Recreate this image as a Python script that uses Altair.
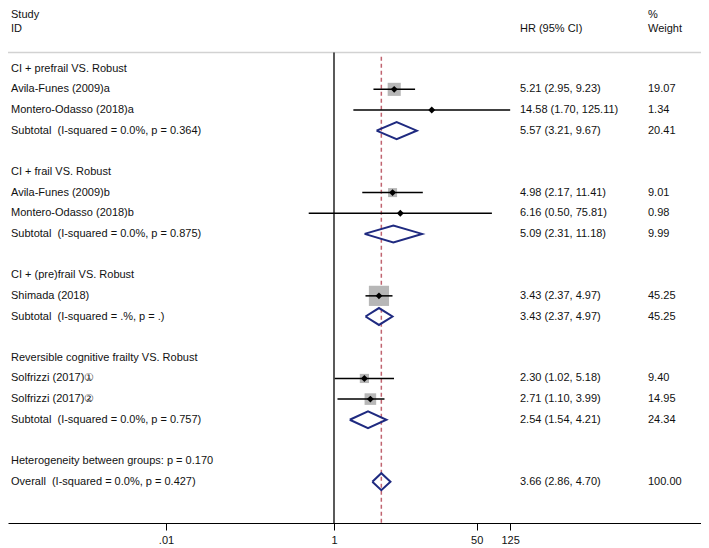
import math
import pandas as pd
import altair as alt

# ---------------- data ----------------
left_rows = [0, 1, 2, 3, 5, 6, 7, 8, 10, 11, 12, 14, 15, 16, 17, 19, 20]
left_labels = [
    "CI + prefrail VS. Robust",
    "Avila-Funes (2009)a",
    "Montero-Odasso (2018)a",
    "Subtotal\u00a0 (I-squared = 0.0%, p = 0.364)",
    "CI + frail VS. Robust",
    "Avila-Funes (2009)b",
    "Montero-Odasso (2018)b",
    "Subtotal\u00a0 (I-squared = 0.0%, p = 0.875)",
    "CI + (pre)frail VS. Robust",
    "Shimada (2018)",
    "Subtotal\u00a0 (I-squared = .%, p = .)",
    "Reversible cognitive frailty VS. Robust",
    "Solfrizzi (2017)\u2460",
    "Solfrizzi (2017)\u2461",
    "Subtotal\u00a0 (I-squared = 0.0%, p = 0.757)",
    "Heterogeneity between groups: p = 0.170",
    "Overall\u00a0 (I-squared = 0.0%, p = 0.427)",
]

# individual studies
st_rows = [1, 2, 6, 7, 11, 15, 16]
st_est = [5.21, 14.58, 4.98, 6.16, 3.43, 2.30, 2.71]
st_lo = [2.95, 1.70, 2.17, 0.50, 2.37, 1.02, 1.10]
st_hi = [9.23, 125.11, 11.41, 75.81, 4.97, 5.18, 3.99]
st_w = [19.07, 1.34, 9.01, 0.98, 45.25, 9.40, 14.95]

# pooled estimates (subtotals + overall)
pl_rows = [3, 8, 12, 17, 20]
pl_est = [5.57, 5.09, 3.43, 2.54, 3.66]
pl_lo = [3.21, 2.31, 2.37, 1.54, 2.86]
pl_hi = [9.67, 11.18, 4.97, 4.21, 4.70]
pl_w = [20.41, 9.99, 45.25, 24.34, 100.00]

overall_est = 3.66

header_rows = [-2.58, -1.93, -1.93, -2.58, -1.93]
header_labels = ["Study", "ID", "HR (95% CI)", "%", "Weight"]
header_col = ["left", "left", "hr", "w", "w"]

tick_values = [0.01, 1, 50, 125]
tick_labels = [".01", "1", "50", "125"]

# ---------------- layout / style ----------------
W, H = 693, 515
px_per_decade = 84.0
x_origin = 326.0  # svg x of HR = 1
lo_dec = -x_origin / px_per_decade
hi_dec = lo_dec + W / px_per_decade
xscale = alt.Scale(type="log", domain=[10 ** lo_dec, 10 ** hi_dec], nice=False)

row_h = 20.65
y0 = 60.7  # svg y of row 0
ymin = -y0 / row_h
ymax = (H - y0) / row_h
yscale = alt.Scale(domain=[ymin, ymax], reverse=True, nice=False, zero=False)

label_expr = " : ".join(
    f"datum.value == {v} ? '{t}'" for v, t in zip(tick_values, tick_labels)
) + " : ''"
xaxis = alt.Axis(
    values=tick_values, labelExpr=label_expr, title=None, grid=False,
    domainColor="black", domainWidth=1, tickColor="black", tickWidth=1,
    tickSize=7, labelPadding=4, labelFontSize=11, labelColor="#111111",
    labelFont="Liberation Sans", labelFlush=False, labelOverlap=False,
)

FONT = "Liberation Sans"
TXT = "#111111"
NAVY = "#1f2a80"
col_x = {"left": 3, "hr": 512, "w": 640}


def X(field, **kw):
    return alt.X(field, type="quantitative", scale=xscale, axis=xaxis, **kw)


def Y(field):
    return alt.Y(field, type="quantitative", scale=yscale, axis=None)


# ---------------- frames ----------------
df_left = pd.DataFrame({"r": left_rows, "label": left_labels})
df_st = pd.DataFrame({"r": st_rows, "est": st_est, "lo": st_lo, "hi": st_hi, "w": st_w})
df_st["size"] = df_st["w"] * 9.0
df_pl = pd.DataFrame({"r": pl_rows, "est": pl_est, "lo": pl_lo, "hi": pl_hi, "w": pl_w})

df_right = pd.concat([df_st, df_pl], ignore_index=True)
df_right["hr"] = [f"{e:.2f} ({l:.2f}, {h:.2f})" for e, l, h in zip(df_right.est, df_right.lo, df_right.hi)]
df_right["wt"] = [f"{w:.2f}" for w in df_right.w]

half = 0.41
verts = []
for g, (r, e, l, h) in enumerate(zip(pl_rows, pl_est, pl_lo, pl_hi)):
    for k, (xv, yv) in enumerate([(l, r), (e, r - half), (h, r), (e, r + half), (l, r)]):
        verts.append({"g": g, "k": k, "x": xv, "y": yv})
df_dia = pd.DataFrame(verts)

df_head = pd.DataFrame({"r": header_rows, "label": header_labels, "col": header_col})

# ---------------- layers ----------------
gray = alt.Chart(pd.DataFrame({"y": [-0.78]})).mark_rule(
    color="#d2d2d2", strokeWidth=1.5).encode(y=Y("y"))

vline = alt.Chart(pd.DataFrame({"x": [1], "y": [-0.78], "y2": [ymax]})).mark_rule(
    color="black", strokeWidth=1.3).encode(x=X("x"), y=Y("y"), y2="y2")

dash = alt.Chart(pd.DataFrame({"x": [overall_est], "y": [-0.58], "y2": [ymax]})).mark_rule(
    color="#c06470", strokeWidth=1.5, strokeDash=[4, 3]).encode(x=X("x"), y=Y("y"), y2="y2")

squares = alt.Chart(df_st).mark_point(
    shape="square", filled=True, color="#b7b7b7", opacity=1, strokeWidth=0).encode(
    x=X("est"), y=Y("r"), size=alt.Size("size:Q", scale=None))

ci = alt.Chart(df_st).mark_rule(color="black", strokeWidth=1.5).encode(
    x=X("lo"), x2="hi", y=Y("r"))

pts = alt.Chart(df_st).mark_point(
    shape="diamond", filled=True, color="black", size=48, opacity=1).encode(
    x=X("est"), y=Y("r"))

dia = alt.Chart(df_dia).mark_line(color=NAVY, strokeWidth=2, strokeJoin="miter").encode(
    x=X("x"), y=Y("y"), order="k:Q", detail="g:N")

tstyle = dict(align="left", baseline="middle", font=FONT, fontSize=11, color=TXT)

left_txt = alt.Chart(df_left).mark_text(**tstyle).encode(
    x=alt.value(col_x["left"]), y=Y("r"), text="label:N")
hr_txt = alt.Chart(df_right).mark_text(**tstyle).encode(
    x=alt.value(col_x["hr"]), y=Y("r"), text="hr:N")
wt_txt = alt.Chart(df_right).mark_text(**tstyle).encode(
    x=alt.value(col_x["w"]), y=Y("r"), text="wt:N")

head_layers = []
for c in ["left", "hr", "w"]:
    head_layers.append(
        alt.Chart(df_head[df_head.col == c]).mark_text(**tstyle).encode(
            x=alt.value(col_x[c]), y=Y("r"), text="label:N"))

chart = alt.layer(
    gray, vline, dash, squares, ci, pts, dia, left_txt, hr_txt, wt_txt, *head_layers
).properties(
    width=W, height=H,
    autosize=alt.AutoSizeParams(type="none"),
    padding={"left": 0, "top": 0, "right": 0, "bottom": 25},
    background="white",
).configure_view(stroke=None)

chart.save("out.html", embed_options={"renderer": "svg", "actions": False})
